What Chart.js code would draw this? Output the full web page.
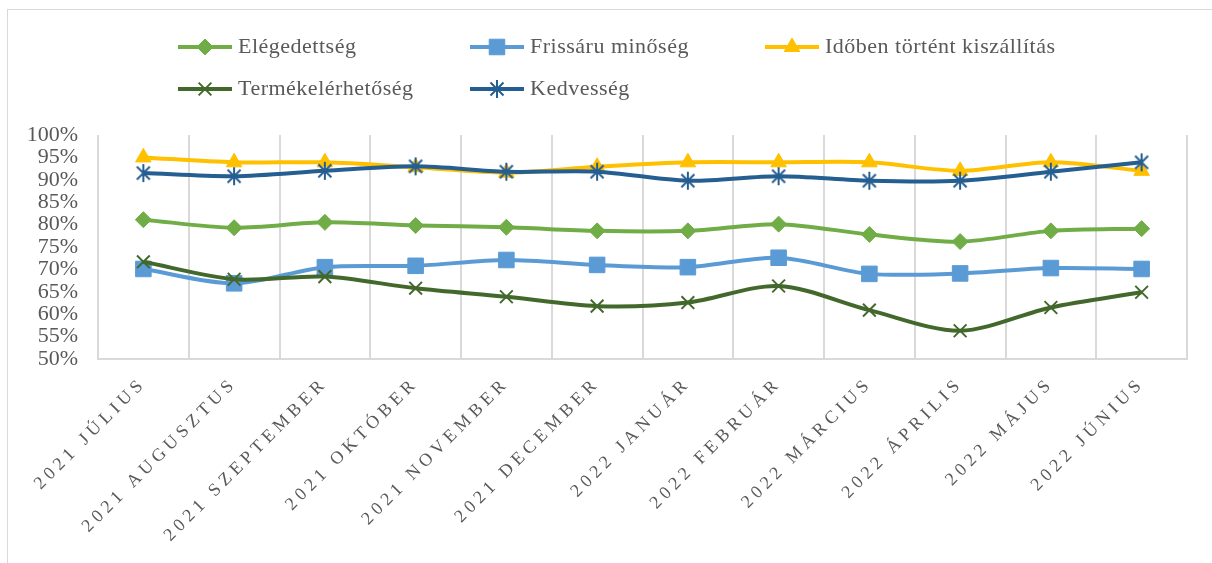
<!DOCTYPE html>
<html lang="hu">
<head>
<meta charset="utf-8">
<title>Elégedettségi mutatók</title>
<script src="https://cdn.jsdelivr.net/npm/chart.js@4/dist/chart.umd.min.js"></script>
<style>
  html, body { margin: 0; padding: 0; background: #fff; overflow: hidden; }
  #cadre { position: absolute; left: 7px; top: 9px; width: 1230px; height: 620px; border: 1px solid #d9d9d9; }
  #zone { position: absolute; left: 0; top: 0; width: 1212px; height: 563px; }
</style>
</head>
<body>
<div id="cadre"></div>
<div id="zone"><canvas id="graphique"></canvas></div>
<script>
// ---------- Donnees ----------

const honapok = ["2021 JÚLIUS", "2021 AUGUSZTUS", "2021 SZEPTEMBER", "2021 OKTÓBER", "2021 NOVEMBER",
  "2021 DECEMBER", "2022 JANUÁR", "2022 FEBRUÁR", "2022 MÁRCIUS", "2022 ÁPRILIS", "2022 MÁJUS", "2022 JÚNIUS"];

const elegedettseg = [81.1, 79.3, 80.5, 79.8, 79.4, 78.6, 78.6, 80.1, 77.8, 76.2, 78.6, 79.1];
const frissaru = [70.1, 66.9, 70.5, 70.8, 72.1, 71.0, 70.5, 72.6, 69.0, 69.1, 70.3, 70.1];
const idoben = [95.0, 93.9, 93.9, 92.8, 91.6, 92.9, 93.9, 93.9, 93.9, 92.0, 93.9, 92.0];
const termekelerhetoseg = [71.7, 67.8, 68.4, 65.8, 63.9, 61.8, 62.6, 66.3, 60.9, 56.3, 61.5, 64.9];
const kedvesseg = [91.5, 90.8, 92.0, 93.0, 91.8, 91.8, 89.8, 90.8, 89.8, 89.8, 91.8, 93.9];

const ticksY = [50, 55, 60, 65, 70, 75, 80, 85, 90, 95, 100];

// ---------- Styles ----------

const POLICE = "'Liberation Serif', 'DejaVu Serif', serif";
const GRIS_TEXTE = "#595959";
const GRIS_GRILLE = "#d9d9d9";

// Positions de la legende (colonnes alignees comme dans Excel)
const colonnesLegende = [178, 470, 765];
const lignesLegende = [47, 89];

// Marqueur "etoile" d'Excel : une barre verticale + une croix
function marqueurAsterisque(couleur) {
  const c = document.createElement("canvas");
  c.width = 20;
  c.height = 20;
  const ctx = c.getContext("2d");
  ctx.strokeStyle = couleur;
  ctx.lineWidth = 2;
  ctx.beginPath();
  ctx.moveTo(10, 1); ctx.lineTo(10, 19);
  ctx.moveTo(3.5, 3.5); ctx.lineTo(16.5, 16.5);
  ctx.moveTo(16.5, 3.5); ctx.lineTo(3.5, 16.5);
  ctx.stroke();
  return c;
}

function serie(label, valeurs, couleur, forme, rayon, ordre) {
  const traits = forme === "crossRot" || typeof forme !== "string";
  return {
    label: label,
    data: valeurs,
    borderColor: couleur,
    backgroundColor: couleur,
    borderWidth: 4,
    tension: 0.3,
    pointStyle: forme,
    pointRadius: rayon,
    pointHoverRadius: rayon,
    pointBackgroundColor: couleur,
    pointBorderColor: couleur,
    pointBorderWidth: traits ? 2 : 1,
    order: ordre,
  };
}

// order : la derniere serie (Kedvesseg) passe au-dessus, comme dans Excel
const series = [
  serie("Elégedettség", elegedettseg, "#70ad47", "rectRot", 8, 4),
  serie("Frissáru minőség", frissaru, "#5b9bd5", "rect", 11, 3),
  serie("Időben történt kiszállítás", idoben, "#ffc000", "triangle", 9, 2),
  serie("Termékelérhetőség", termekelerhetoseg, "#43682b", "crossRot", 9, 1),
  serie("Kedvesség", kedvesseg, "#255e91", marqueurAsterisque("#255e91"), 9, 0),
];

// Legende dessinee a la main pour garder les colonnes alignees
const legendeManuelle = {
  id: "legendeManuelle",
  afterDraw(chart) {
    const ctx = chart.ctx;
    ctx.save();
    chart.data.datasets.forEach((ds, i) => {
      const x = colonnesLegende[i % 3];
      const y = lignesLegende[Math.floor(i / 3)];
      ctx.strokeStyle = ds.borderColor;
      ctx.lineWidth = ds.borderWidth;
      ctx.beginPath();
      ctx.moveTo(x, y);
      ctx.lineTo(x + 54, y);
      ctx.stroke();
      ctx.fillStyle = ds.borderColor;
      ctx.lineWidth = ds.pointBorderWidth;
      Chart.helpers.drawPoint(ctx, {
        pointStyle: ds.pointStyle,
        radius: ds.pointRadius,
        rotation: 0,
        borderWidth: ds.pointBorderWidth,
      }, x + 27, y);
      ctx.fillStyle = GRIS_TEXTE;
      ctx.font = "22px " + POLICE;
      ctx.letterSpacing = "0.5px";
      ctx.textBaseline = "middle";
      ctx.textAlign = "left";
      ctx.fillText(ds.label, x + 60, y);
    });
    ctx.restore();
  },
};

// Les mois sont en petites capitales espacees : on ajoute un espacement des lettres
const espacementMois = {
  id: "espacementMois",
  afterLayout(chart) {
    const echelle = chart.scales.x;
    if (echelle._espace) return;
    const original = echelle.drawLabels;
    echelle.drawLabels = function (zone) {
      const ctx = this.ctx;
      ctx.save();
      ctx.letterSpacing = "4.5px";
      original.call(this, zone);
      ctx.restore();
    };
    echelle._espace = true;
  },
};

new Chart(document.getElementById("graphique"), {
  type: "line",
  data: { labels: honapok, datasets: series },
  options: {
    responsive: true,
    maintainAspectRatio: false,
    animation: false,
    layout: { padding: { left: 8, right: 25, top: 135, bottom: 0 } },
    plugins: { legend: { display: false }, tooltip: { enabled: false } },
    scales: {
      x: {
        offset: true,
        grid: { display: true, offset: true, color: GRIS_GRILLE, lineWidth: 2, drawTicks: false },
        border: { display: true, color: GRIS_GRILLE, width: 2 },
        ticks: {
          color: GRIS_TEXTE,
          font: { family: POLICE, size: 18 },
          maxRotation: 45,
          minRotation: 45,
          padding: 14,
          autoSkip: false,
        },
        afterFit(scale) { scale.height = 204; },
      },
      y: {
        min: 50,
        max: 100,
        afterBuildTicks(scale) { scale.ticks = ticksY.map(v => ({ value: v })); },
        grid: { display: false, drawTicks: false },
        border: { display: false },
        ticks: {
          color: GRIS_TEXTE,
          font: { family: POLICE, size: 22 },
          padding: 20,
          autoSkip: false,
          callback: v => v + "%",
        },
        afterFit(scale) { scale.width = 90; },
      },
    },
  },
  plugins: [legendeManuelle, espacementMois],
});
</script>
</body>
</html>
